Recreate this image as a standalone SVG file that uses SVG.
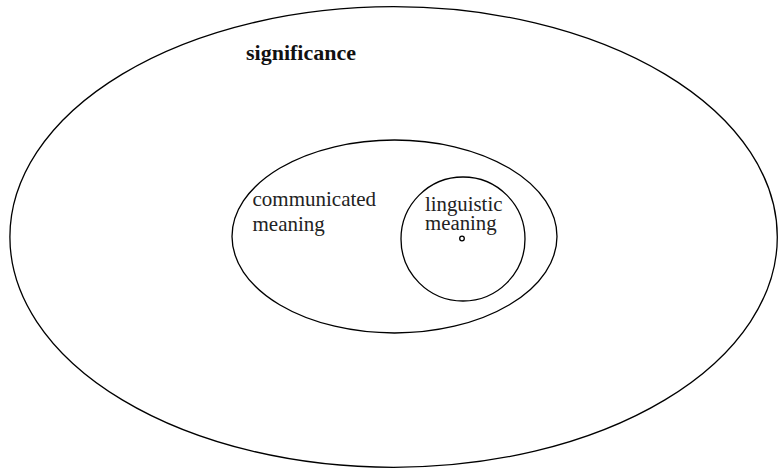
<svg xmlns="http://www.w3.org/2000/svg" width="779" height="469" viewBox="0 0 779 469">
<style>
.sh{fill:none;stroke:#000;stroke-width:1.3}
.t{font-family:"Liberation Serif","Times New Roman",serif;font-size:21px;fill:#222}
.b{font-weight:bold;fill:#111;font-size:22px}
.s{font-size:20.8px}
</style>
<rect width="779" height="469" fill="#fff"/>
<g id="significance">
<ellipse class="sh" cx="393.6" cy="237" rx="383.7" ry="230.3"/>
<text class="t b" x="246" y="60">significance</text>
</g>
<g id="communicated-meaning">
<ellipse class="sh" cx="394.5" cy="236.5" rx="162.5" ry="96.5"/>
<text class="t" x="252.5" y="206">communicated</text>
<text class="t" x="252.5" y="231">meaning</text>
</g>
<g id="linguistic-meaning">
<ellipse class="sh" cx="463" cy="239" rx="62" ry="62"/>
<text class="t s" x="425" y="211">linguistic</text>
<text class="t s" x="425" y="230">meaning</text>
<circle class="sh" cx="462" cy="238.5" r="2.3"/>
</g>
<g id="connectors"/>
</svg>
